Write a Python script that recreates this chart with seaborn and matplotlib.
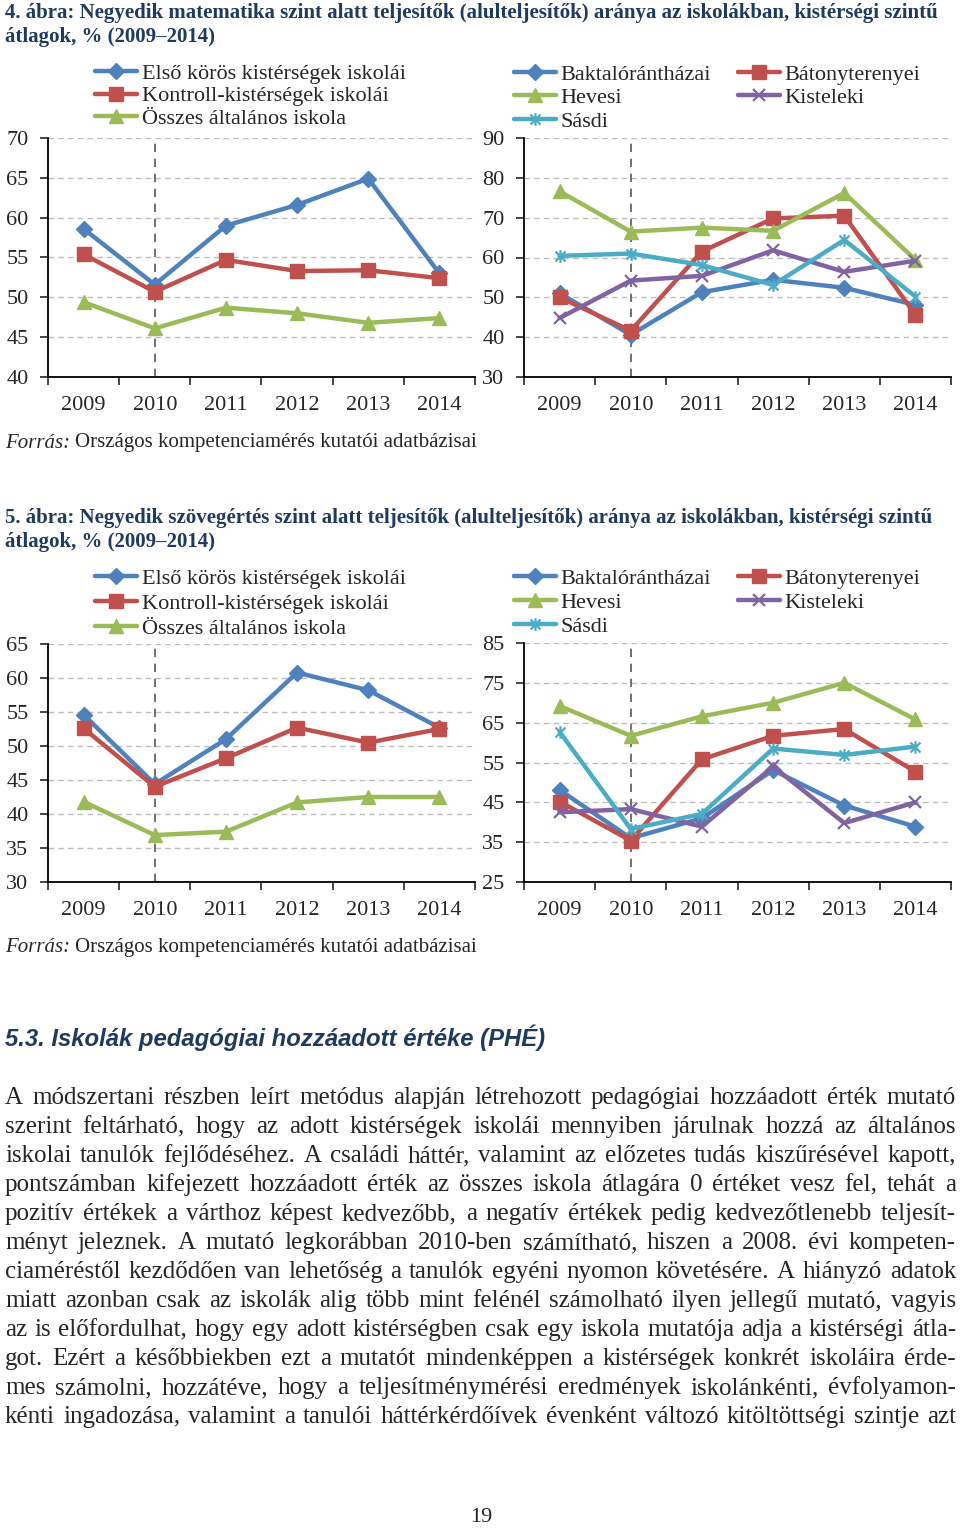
import numpy as np
import matplotlib
matplotlib.use('Agg')
import matplotlib.pyplot as plt
import seaborn as sns
from matplotlib.path import Path

# ---------------- data ----------------
years = ['2009', '2010', '2011', '2012', '2013', '2014']

group_names = ['Első körös kistérségek iskolái', 'Kontroll-kistérségek iskolái',
               'Összes általános iskola']
math_elso = [58.6, 51.6, 59.0, 61.6, 64.9, 53.0]
math_kontroll = [55.4, 50.7, 54.7, 53.3, 53.4, 52.4]
math_osszes = [49.4, 46.1, 48.7, 48.0, 46.8, 47.4]

region_names = ['Baktalórántházai', 'Bátonyterenyei', 'Hevesi', 'Kisteleki', 'Sásdi']
math_bakt = [51.0, 40.6, 51.3, 54.4, 52.4, 48.1]
math_bato = [50.0, 41.6, 61.5, 69.8, 70.5, 45.6]
math_hev = [76.6, 66.5, 67.5, 66.7, 76.2, 59.4]
math_kist = [44.8, 54.2, 55.4, 61.8, 56.4, 59.2]
math_sasdi = [60.4, 61.0, 58.1, 53.1, 64.4, 50.2]

read_elso = [54.6, 44.4, 51.0, 60.8, 58.2, 52.7]
read_kontroll = [52.6, 44.0, 48.2, 52.7, 50.5, 52.5]
read_osszes = [41.8, 36.9, 37.4, 41.7, 42.5, 42.5]

read_bakt = [48.1, 36.0, 41.0, 53.1, 44.2, 38.9]
read_bato = [45.2, 35.4, 55.8, 61.7, 63.4, 52.7]
read_hev = [69.2, 61.7, 66.6, 70.0, 75.0, 65.8]
read_kist = [42.5, 43.3, 38.9, 54.0, 39.8, 45.0]
read_sasdi = [62.7, 38.3, 42.1, 58.5, 56.9, 59.0]

title4 = ['4. ábra: Negyedik matematika szint alatt teljesítők (alulteljesítők) aránya az iskolákban, kistérségi szintű',
          'átlagok, % (2009–2014)']
title5 = ['5. ábra: Negyedik szövegértés szint alatt teljesítők (alulteljesítők) aránya az iskolákban, kistérségi szintű',
          'átlagok, % (2009–2014)']
source_label = 'Forrás:'
source_text = 'Országos kompetenciamérés kutatói adatbázisai'
heading = '5.3. Iskolák pedagógiai hozzáadott értéke (PHÉ)'
body_lines = [
    'A módszertani részben leírt metódus alapján létrehozott pedagógiai hozzáadott érték mutató',
    'szerint feltárható, hogy az adott kistérségek iskolái mennyiben járulnak hozzá az általános',
    'iskolai tanulók fejlődéséhez. A családi háttér, valamint az előzetes tudás kiszűrésével kapott,',
    'pontszámban kifejezett hozzáadott érték az összes iskola átlagára 0 értéket vesz fel, tehát a',
    'pozitív értékek a várthoz képest kedvezőbb, a negatív értékek pedig kedvezőtlenebb teljesít-',
    'ményt jeleznek. A mutató legkorábban 2010-ben számítható, hiszen a 2008. évi kompeten-',
    'ciaméréstől kezdődően van lehetőség a tanulók egyéni nyomon követésére. A hiányzó adatok',
    'miatt azonban csak az iskolák alig több mint felénél számolható ilyen jellegű mutató, vagyis',
    'az is előfordulhat, hogy egy adott kistérségben csak egy iskola mutatója adja a kistérségi átla-',
    'got. Ezért a későbbiekben ezt a mutatót mindenképpen a kistérségek konkrét iskoláira érde-',
    'mes számolni, hozzátéve, hogy a teljesítménymérési eredmények iskolánkénti, évfolyamon-',
    'kénti ingadozása, valamint a tanulói háttérkérdőívek évenként változó kitöltöttségi szintje azt',
]
page_number = '19'

# ---------------- style ----------------
sns.set_style('white')
plt.rcParams['font.family'] = ['Liberation Serif', 'DejaVu Serif']
plt.rcParams['axes.linewidth'] = 1.3

W, H = 960, 1528
fig = plt.figure(figsize=(W / 100, H / 100), dpi=100)
fig.patch.set_facecolor('white')

def fx(px):
    return px / W

def fy(py):
    return 1 - py / H

BLUE, RED, GREEN, PURPLE, CYAN = '#4F81BD', '#C0504D', '#9BBB59', '#8064A2', '#4BACC6'
TITLE_C = '#1F3A60'
CHART_FS = 16

ast = Path([(-1, -1), (1, 1), (-1, 1), (1, -1), (0, -1.25), (0, 1.25)],
           [Path.MOVETO, Path.LINETO, Path.MOVETO, Path.LINETO, Path.MOVETO, Path.LINETO])

group_styles = [
    dict(color=BLUE, marker='D', markersize=8, markerfacecolor=BLUE, markeredgecolor=BLUE, markeredgewidth=1),
    dict(color=RED, marker='s', markersize=10, markerfacecolor=RED, markeredgecolor=RED, markeredgewidth=1),
    dict(color=GREEN, marker='^', markersize=10, markerfacecolor=GREEN, markeredgecolor=GREEN, markeredgewidth=1),
]
region_styles = [
    dict(color=BLUE, marker='D', markersize=8, markerfacecolor=BLUE, markeredgecolor=BLUE, markeredgewidth=1),
    dict(color=RED, marker='s', markersize=10, markerfacecolor=RED, markeredgecolor=RED, markeredgewidth=1),
    dict(color=GREEN, marker='^', markersize=10, markerfacecolor=GREEN, markeredgecolor=GREEN, markeredgewidth=1),
    dict(color=PURPLE, marker='x', markersize=9, markerfacecolor=PURPLE, markeredgecolor=PURPLE, markeredgewidth=1.6),
    dict(color=CYAN, marker=ast, markersize=9, markerfacecolor='none', markeredgecolor=CYAN, markeredgewidth=1.6),
]


def draw_chart(rect_px, series, names, styles, ylim, ystep, legend_xy, ncol, legend_order, labelspacing):
    x0, y0, x1, y1 = rect_px
    ax = fig.add_axes([fx(x0), fy(y1), fx(x1 - x0), (y1 - y0) / H])
    xs = np.arange(len(years))
    ax.axvline(1, color='#595959', ls=(0, (5, 4)), lw=1.2, zorder=1)
    for vals, name, st in zip(series, names, styles):
        sns.lineplot(x=xs, y=vals, ax=ax, lw=3.2, label=name, legend=False, zorder=3, **st)
    ax.set_xlim(-0.5, len(years) - 0.5)
    ax.set_ylim(*ylim)
    ax.set_yticks(np.arange(ylim[0], ylim[1] + 0.01, ystep))
    ax.set_xticks(np.arange(-0.5, len(years), 1))
    ax.set_xticklabels([])
    ax.set_xticks(xs, minor=True)
    ax.set_xticklabels(years, minor=True)
    ax.tick_params(axis='x', which='major', length=6, width=1.2, direction='out', bottom=True)
    ax.tick_params(axis='x', which='minor', length=0, pad=13.5, labelsize=CHART_FS, bottom=True)
    ax.tick_params(axis='y', length=6, width=1.2, pad=8, labelsize=CHART_FS, left=True, direction='out')
    for s in ['top', 'right']:
        ax.spines[s].set_visible(False)
    for s in ['left', 'bottom']:
        ax.spines[s].set_color('black')
    ax.yaxis.grid(True, ls=(0, (4, 3)), color='#BDBDBD', lw=1.0)
    ax.xaxis.grid(False)
    ax.set_axisbelow(True)
    ax.set_xlabel('')
    ax.set_ylabel('')
    handles, labels = ax.get_legend_handles_labels()
    hmap = dict(zip(labels, handles))
    ordered = [hmap[n] for n in legend_order]
    ax.legend(ordered, legend_order, loc='upper left',
              bbox_to_anchor=(fx(legend_xy[0]), fy(legend_xy[1])), bbox_transform=fig.transFigure,
              frameon=False, fontsize=CHART_FS, handlelength=1.9, handletextpad=0.2,
              labelspacing=labelspacing, borderpad=0, borderaxespad=0, ncol=ncol,
              columnspacing=1.2, numpoints=1)
    return ax


region_legend_order = ['Baktalórántházai', 'Hevesi', 'Sásdi', 'Bátonyterenyei', 'Kisteleki']

draw_chart((48, 138, 475, 377), [math_elso, math_kontroll, math_osszes], group_names, group_styles,
           (40, 70), 5, (95, 63), 1, group_names, 0.1)
draw_chart((524, 138, 951, 377), [math_bakt, math_bato, math_hev, math_kist, math_sasdi],
           region_names, region_styles, (30, 90), 10, (514, 64), 2, region_legend_order, 0.14)
draw_chart((48, 644, 475, 882), [read_elso, read_kontroll, read_osszes], group_names, group_styles,
           (30, 65), 5, (95, 568), 1, group_names, 0.2)
draw_chart((524, 643, 951, 882), [read_bakt, read_bato, read_hev, read_kist, read_sasdi],
           region_names, region_styles, (25, 85), 10, (514, 568), 2, region_legend_order, 0.16)

# ---------------- page text ----------------
fig.canvas.draw()
renderer = fig.canvas.get_renderer()

for lines, ys in [(title4, (13, 37)), (title5, (518, 542))]:
    for line, yy in zip(lines, ys):
        fig.text(fx(5), fy(yy), line, fontsize=15, fontweight='bold', color=TITLE_C,
                 va='center', ha='left')


def source(yy):
    t = fig.text(fx(5), fy(yy), source_label, fontsize=15.0, style='italic', va='center', ha='left')
    w = t.get_window_extent(renderer).width
    fig.text(fx(5 + w + 5), fy(yy), source_text, fontsize=15.0, va='center', ha='left')


source(443)
source(948)

fig.text(fx(5), fy(1038), heading, fontsize=17.2, fontweight='bold', style='italic', color=TITLE_C,
         va='center', ha='left', family=['Liberation Sans Narrow', 'Liberation Sans', 'DejaVu Sans'])


def justify(line, yy, xl=5, xr=956, size=18.0):
    words = line.split(' ')
    texts = [fig.text(0, fy(yy), w, fontsize=size, va='baseline', ha='left') for w in words]
    widths = [t.get_window_extent(renderer).width for t in texts]
    gap = (xr - xl - sum(widths)) / (len(words) - 1)
    x = xl
    for t, w in zip(texts, widths):
        t.set_x(fx(x))
        x += w + gap


for i, line in enumerate(body_lines):
    justify(line, 1104 + 29 * i)

fig.text(fx(481), fy(1518), page_number, fontsize=16, va='center', ha='center')

fig.savefig('out.png', dpi=100, facecolor='white')
